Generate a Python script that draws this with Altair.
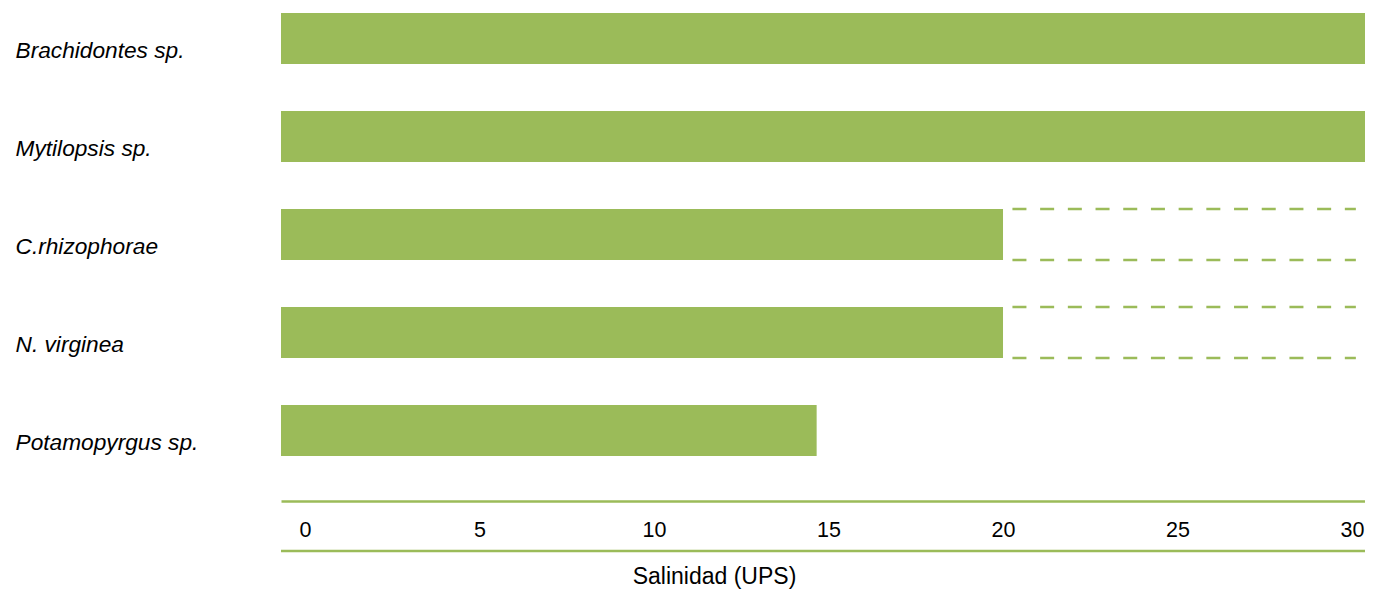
import altair as alt
import pandas as pd

species = ["Brachidontes sp.", "Mytilopsis sp.", "C.rhizophorae", "N. virginea", "Potamopyrgus sp."]
salinity_max = [30.45, 30.45, 20.0, 20.0, 14.66]
# uncertain upper range (dashed) for some species
dash_species = ["C.rhizophorae", "N. virginea"]
dash_start = [20.27, 20.27]
dash_end = [30.11, 30.11]
tick_values = [0, 5, 10, 15, 20, 25, 30]

GREEN = "#9BBB59"
FONT = "Liberation Sans"
W, H = 1084, 443
XMIN, XMAX = -0.688, 30.372

bars_df = pd.DataFrame({"species": species, "sal": salinity_max})
dash_df = pd.DataFrame({"species": dash_species, "s": dash_start, "e": dash_end})

xscale = alt.Scale(domain=[XMIN, XMAX], nice=False, zero=False)
yscale = alt.Scale(domain=species, paddingInner=0.48, paddingOuter=0.0)

bars = alt.Chart(bars_df).mark_bar(color=GREEN, clip=True).encode(
    x=alt.X("sal:Q", scale=xscale,
            axis=alt.Axis(values=tick_values, title="Salinidad (UPS)", grid=False,
                          ticks=False, tickSize=0, domainColor=GREEN, domainWidth=2.5,
                          offset=45, labelFontSize=21.5, labelFont=FONT, labelColor="black",
                          labelPadding=18, titleFont=FONT, titleFontSize=23,
                          titleFontWeight="normal", titleColor="black",
                          titleX=433, titleY=82, titleBaseline="alphabetic", titleAlign="center",
                          labelFlush=False)),
    x2=alt.datum(XMIN),
    y=alt.Y("species:N", scale=yscale, sort=species,
            axis=alt.Axis(title=None, domain=False, ticks=False, tickSize=0,
                          labelAlign="left", labelPadding=266, labelFont=FONT,
                          labelFontSize=22.7, labelFontStyle="italic", labelColor="black",
                          labelOffset=12.5, labelBaseline="middle", labelLimit=300)),
)

dash_top = alt.Chart(dash_df).mark_rule(color=GREEN, strokeWidth=2.5, strokeDash=[14, 13.7]).encode(
    x=alt.X("s:Q", scale=xscale), x2="e:Q",
    y=alt.Y("species:N", scale=yscale, sort=species, bandPosition=0),
)
dash_bot = alt.Chart(dash_df).mark_rule(color=GREEN, strokeWidth=2.5, strokeDash=[14, 13.7]).encode(
    x=alt.X("s:Q", scale=xscale), x2="e:Q",
    y=alt.Y("species:N", scale=yscale, sort=species, bandPosition=1),
)

bottom_rule = alt.Chart(pd.DataFrame({"k": [0]})).mark_rule(color=GREEN, strokeWidth=2.5).encode(
    x=alt.value(0), x2=alt.value(W), y=alt.value(538),
)

chart = alt.layer(bars, dash_top, dash_bot, bottom_rule).properties(
    width=W, height=H,
    background="white",
    autosize=alt.AutoSizeParams(type="none"),
    padding={"left": 273, "top": 5, "right": 0, "bottom": 134},
).configure_view(stroke=None)

chart.save("out.html", embed_options={"renderer": "svg", "actions": False})
